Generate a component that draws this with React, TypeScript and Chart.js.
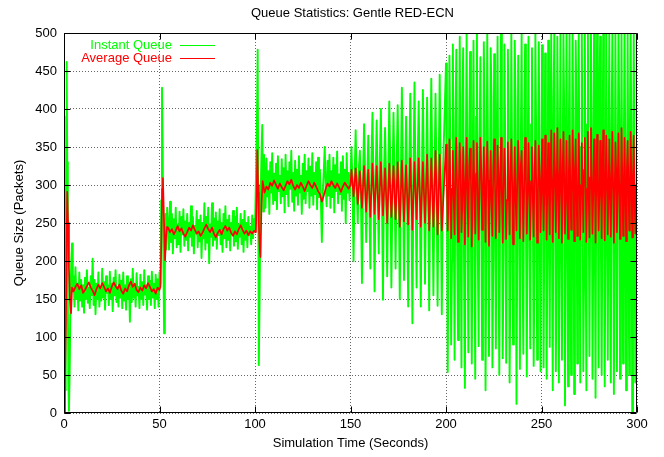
import React, { useEffect, useRef } from 'react';
import { Chart, registerables } from 'chart.js';

Chart.register(...registerables);

const TITLE = 'Queue Statistics: Gentle RED-ECN';
const X_TITLE = 'Simulation Time (Seconds)';
const Y_TITLE = 'Queue Size (Packets)';
const SERIES_NAMES = ['Instant Queue', 'Average Queue'];
const X_TICKS = [0, 50, 100, 150, 200, 250, 300];
const Y_TICKS = [0, 50, 100, 150, 200, 250, 300, 350, 400, 450, 500];

// ---------- Instant queue (green) ----------
const instantStartTimes = [0, 0.3, 0.6, 0.9, 1.2, 1.4, 1.7, 2.0, 2.3, 2.6, 3.0, 3.4, 3.8, 4.2, 4.6];
const instantStartValues = [0, 55, 30, 200, 390, 462, 330, 150, 40, 3, 60, 150, 200, 223, 160];

// t = 5.0 .. 50.0, every 0.5 s
const instantPhase1 = [
  180, 140, 192, 150, 170, 135, 185, 148, 175, 140,
  168, 132, 178, 150, 188, 145, 165, 138, 180, 155,
  203, 142, 175, 130, 170, 150, 185, 140, 165, 148,
  190, 152, 172, 136, 180, 158, 168, 142, 186, 150,
  170, 134, 178, 155, 188, 146, 166, 140, 182, 152,
  174, 138, 185, 148, 168, 136, 180, 150, 172, 120,
  176, 146, 190, 152, 170, 140, 184, 155, 166, 138,
  182, 150, 172, 142, 188, 156, 168, 136, 180, 150,
  174, 142, 186, 152, 170, 138, 182, 150, 176, 140,
  185,
];

const instantJump1Times = [50.5, 50.9, 51.3, 51.7, 52.0, 52.4, 52.8, 53.2, 53.6, 54.0];
const instantJump1Values = [170, 280, 428, 340, 210, 105, 185, 262, 215, 270];

// t = 54.5 .. 100.0, every 0.5 s
const instantPhase2 = [
  250, 215, 278, 225, 262, 210, 255, 230, 270, 218,
  248, 222, 265, 212, 258, 235, 268, 220, 252, 228,
  262, 214, 250, 232, 272, 220, 258, 210, 246, 236,
  266, 218, 254, 226, 260, 204, 250, 230, 276, 215,
  258, 224, 270, 197, 248, 232, 276, 220, 256, 228,
  264, 216, 252, 234, 268, 222, 250, 212, 262, 230,
  272, 218, 254, 228, 260, 214, 250, 236, 266, 220,
  258, 226, 270, 216, 248, 232, 262, 222, 254, 212,
  266, 228, 250, 218, 258, 234, 245, 222, 260, 230,
  255, 240,
];

const instantJump2Times = [100.5, 101.0, 101.4, 101.7, 102.0, 102.4, 102.8, 103.3, 103.8, 104.3, 104.7];
const instantJump2Values = [240, 380, 478, 290, 63, 150, 260, 330, 379, 265, 340];

// t = 105.0 .. 150.0, every 0.5 s
const instantPhase3 = [
  320, 270, 335, 285, 318, 262, 330, 290, 342, 275,
  315, 280, 328, 268, 338, 292, 312, 276, 334, 285,
  322, 264, 340, 288, 318, 272, 330, 295, 345, 278,
  316, 266, 332, 286, 320, 274, 338, 290, 312, 262,
  328, 282, 340, 276, 318, 292, 335, 270, 324, 286,
  342, 274, 316, 288, 330, 268, 336, 284, 320, 278,
  225, 290, 318, 350, 296, 272, 332, 286, 340, 270,
  318, 284, 336, 264, 326, 292, 344, 276, 314, 288,
  330, 266, 338, 282, 320, 250, 342, 290, 316, 280,
  310,
];

// t = 150.5 .., every 0.55 s (peak, middle, trough, middle)
const instantOsc1 = [
  350, 300, 200, 310, 372, 295, 250, 320, 345, 290,
  171, 305, 380, 315, 225, 300, 365, 285, 190, 325,
  395, 300, 160, 310, 385, 295, 210, 330, 400, 290,
  149, 315, 375, 305, 180, 300, 410, 320, 165, 290,
  395, 310, 190, 325, 405, 295, 150, 305, 428, 315,
  175, 300, 390, 285, 140, 320, 420, 300, 118, 310,
  435, 295, 165, 325, 410, 305, 140, 300, 425, 315,
  170, 290, 415, 300, 135, 320, 440, 310, 155, 295,
  420, 305, 141, 315, 445, 300, 130, 310,
];

// t = 200.0 .., every 0.45 s (peak, middle, trough, middle)
const instantOsc2 = [
  460, 300, 54, 240, 470, 350, 90, 200, 485, 280, 70, 380,
  478, 220, 96, 320, 495, 260, 60, 400, 480, 190, 33, 330,
  500, 270, 80, 360, 475, 230, 65, 310, 490, 250, 45, 390,
  500, 210, 88, 340, 468, 290, 70, 180, 488, 370, 30, 240,
  500, 320, 75, 260, 480, 410, 60, 200, 472, 300, 85, 350,
  495, 230, 50, 280, 500, 390, 72, 220, 485, 330, 66, 270,
  478, 360, 40, 190, 500, 310, 90, 250, 490, 400, 12, 240,
  470, 290, 58, 340, 500, 210, 78, 370, 485, 260, 48, 320,
  495, 230, 85, 380, 480, 280, 62, 200, 500, 350, 70, 300,
  488, 250, 55, 330,
];

// t = 250.3 .., every 0.4 s (peak, middle, trough, middle)
const instantOsc3 = [
  484, 320, 60, 260, 473, 380, 45, 220, 490, 290, 87, 350,
  500, 240, 30, 410, 500, 300, 55, 200, 495, 360, 40, 270,
  500, 230, 70, 330, 500, 390, 10, 250, 500, 280, 35, 370,
  500, 210, 50, 310, 500, 340, 25, 240, 490, 400, 65, 290,
  500, 260, 40, 350, 500, 320, 55, 190, 500, 230, 30, 380,
  500, 300, 75, 270, 500, 370, 45, 220, 500, 250, 20, 340,
  500, 310, 60, 400, 495, 220, 50, 280, 500, 360, 35, 240,
  500, 290, 70, 330, 500, 200, 40, 370, 500, 340, 25, 260,
  500, 280, 55, 310, 500, 390, 45, 230, 500, 250, 65, 350,
  500, 320, 30, 210, 500, 270, 50, 380, 500, 330, 0, 240,
  500, 300, 40, 280,
];
const instantEndTimes = [300];
const instantEndValues = [250];

// ---------- Average queue (red) ----------
const averageStartTimes = [0, 0.5, 1.0, 1.4, 1.7, 2.1, 2.6, 3.1, 3.7, 4.2];
const averageStartValues = [0, 40, 120, 230, 291, 250, 190, 150, 131, 165];

// t = 5 .. 50, every 1 s
const averagePhase1 = [
  160, 166, 170, 163, 168, 158, 162, 167, 172, 165,
  161, 155, 163, 169, 164, 171, 166, 160, 164, 158,
  166, 172, 167, 163, 169, 161, 157, 164, 160, 168,
  173, 166, 170, 162, 159, 165, 161, 168, 164, 171,
  166, 160, 163, 157, 165, 162,
];

const averageJump1Times = [50.5, 51.0, 51.4, 51.8, 52.3, 52.9, 53.5, 54.0];
const averageJump1Values = [166, 230, 295, 309, 260, 201, 235, 245];

// t = 54.5 .. 99.5, every 1 s
const averagePhase2 = [
  244, 238, 242, 235, 240, 246, 239, 243, 236, 232,
  238, 244, 240, 247, 241, 236, 239, 233, 237, 243,
  248, 242, 238, 244, 236, 231, 237, 241, 235, 242,
  246, 240, 244, 237, 233, 239, 235, 242, 247, 241,
  236, 240, 234, 239, 236, 240,
];

const averageJump2Times = [100.0, 100.5, 101.0, 101.2, 101.6, 102.0, 102.5, 102.9, 103.4, 104.0];
const averageJump2Values = [238, 240, 310, 346, 300, 250, 215, 205, 275, 305];

// t = 105 .. 150, every 1 s
const averagePhase3 = [
  290, 298, 294, 303, 299, 306, 300, 295, 302, 297,
  293, 299, 305, 301, 307, 299, 294, 300, 296, 303,
  298, 292, 299, 305, 300, 296, 303, 298, 292, 288,
  278, 286, 295, 302, 298, 305, 300, 296, 302, 297,
  291, 298, 303, 299, 295, 300,
];

// t = 150.5 .., every 1.1 s
const averageOsc1 = [
  320, 285, 322, 275, 318, 270, 325, 265, 320, 258,
  328, 262, 325, 255, 330, 260, 322, 250, 328, 258,
  325, 255, 330, 245, 332, 252, 326, 248, 335, 241,
  330, 255, 335, 245, 330, 250, 340, 240, 335, 245,
  345, 235, 340, 240,
];

// t = 200.0 .., every 0.45 s (peak, middle, trough, middle)
const averageOsc2 = [
  353, 300, 240, 285, 360, 310, 230, 295, 345, 280, 235, 320,
  362, 290, 225, 305, 355, 315, 238, 275, 350, 300, 222, 310,
  362, 285, 232, 325, 348, 305, 219, 290, 358, 295, 236, 315,
  355, 280, 228, 300, 362, 320, 241, 285, 350, 290, 225, 310,
  357, 305, 220, 295, 345, 275, 233, 320, 360, 300, 230, 285,
  352, 315, 238, 305, 362, 285, 224, 295, 348, 310, 229, 280,
  356, 295, 235, 315, 360, 300, 222, 290, 350, 280, 240, 310,
  358, 305, 230, 325, 345, 290, 226, 300, 362, 315, 236, 285,
  355, 295, 228, 305, 350, 280, 232, 320, 358, 300, 224, 290,
  352, 310, 238, 300,
];

// t = 250.3 .., every 0.4 s (peak, middle, trough, middle)
const averageOsc3 = [
  360, 300, 240, 290, 365, 310, 228, 305, 355, 285, 235, 320,
  372, 295, 225, 300, 368, 315, 238, 285, 375, 300, 230, 310,
  360, 290, 224, 325, 370, 305, 236, 295, 358, 280, 229, 315,
  365, 300, 241, 290, 372, 320, 226, 305, 360, 295, 233, 285,
  368, 310, 228, 300, 355, 290, 238, 320, 362, 305, 225, 295,
  370, 285, 231, 310, 375, 300, 236, 290, 360, 315, 224, 305,
  366, 295, 240, 285, 358, 310, 230, 320, 372, 290, 227, 300,
  365, 305, 235, 295, 360, 285, 232, 315, 370, 300, 224, 290,
  356, 320, 238, 305, 368, 295, 229, 285, 375, 310, 233, 300,
  362, 290, 226, 320, 358, 305, 240, 295, 370, 300, 231, 310,
  365, 285, 236, 300,
];
const averageEndTimes = [300];
const averageEndValues = [300];

type P = { x: number; y: number };
function byStep(start: number, step: number, values: number[]): P[] {
  return values.map((v, i) => ({ x: Math.round((start + i * step) * 100) / 100, y: v }));
}
function byTimes(times: number[], values: number[]): P[] {
  return times.map((t, i) => ({ x: t, y: values[i] }));
}

const instantData: P[] = [
  ...byTimes(instantStartTimes, instantStartValues),
  ...byStep(5, 0.5, instantPhase1),
  ...byTimes(instantJump1Times, instantJump1Values),
  ...byStep(54.5, 0.5, instantPhase2),
  ...byTimes(instantJump2Times, instantJump2Values),
  ...byStep(105, 0.5, instantPhase3),
  ...byStep(150.5, 0.55, instantOsc1),
  ...byStep(200, 0.45, instantOsc2),
  ...byStep(250.3, 0.4, instantOsc3),
  ...byTimes(instantEndTimes, instantEndValues),
];

const averageData: P[] = [
  ...byTimes(averageStartTimes, averageStartValues),
  ...byStep(5, 1, averagePhase1),
  ...byTimes(averageJump1Times, averageJump1Values),
  ...byStep(54.5, 1, averagePhase2),
  ...byTimes(averageJump2Times, averageJump2Values),
  ...byStep(105, 1, averagePhase3),
  ...byStep(150.5, 1.1, averageOsc1),
  ...byStep(200, 0.45, averageOsc2),
  ...byStep(250.3, 0.4, averageOsc3),
  ...byTimes(averageEndTimes, averageEndValues),
];

const FONT = "'Liberation Sans', Arial, Helvetica, sans-serif";
const GREEN = '#00ff00';
const RED = '#ff0000';

const framePlugin = {
  id: 'gnuframe',
  afterDatasetsDraw(chart: any) {
    const { ctx, chartArea, scales } = chart;
    const { left, right, top, bottom } = chartArea;
    const xs = scales.x;
    const ys = scales.y;
    ctx.save();
    ctx.strokeStyle = '#000';
    ctx.lineWidth = 1;
    const L = Math.round(left) + 0.5;
    const R = Math.round(right) - 0.5;
    const T = Math.round(top) + 0.5;
    const B = Math.round(bottom) - 0.5;
    ctx.beginPath();
    ctx.rect(L, T, R - L, B - T);
    ctx.stroke();
    const tl = 6;
    ctx.beginPath();
    X_TICKS.forEach((v) => {
      const px = Math.round(xs.getPixelForValue(v)) + 0.5;
      ctx.moveTo(px, B);
      ctx.lineTo(px, B - tl);
      ctx.moveTo(px, T);
      ctx.lineTo(px, T + tl);
    });
    Y_TICKS.forEach((v) => {
      const py = Math.round(ys.getPixelForValue(v)) + 0.5;
      ctx.moveTo(L, py);
      ctx.lineTo(L + tl, py);
      ctx.moveTo(R, py);
      ctx.lineTo(R - tl, py);
    });
    ctx.stroke();

    ctx.font = `13px ${FONT}`;
    ctx.textBaseline = 'middle';
    ctx.fillStyle = '#000';
    ctx.textAlign = 'center';
    ctx.fillText(TITLE, (left + right) / 2 + 2, 13);

    ctx.textAlign = 'right';
    const entries = [
      { label: SERIES_NAMES[0], color: GREEN, y: 45 },
      { label: SERIES_NAMES[1], color: RED, y: 58 },
    ];
    entries.forEach((e) => {
      ctx.fillStyle = e.color;
      ctx.fillText(e.label, 172, e.y);
      ctx.strokeStyle = e.color;
      ctx.lineWidth = 1;
      ctx.beginPath();
      ctx.moveTo(180, Math.round(e.y) + 0.5);
      ctx.lineTo(215, Math.round(e.y) + 0.5);
      ctx.stroke();
    });
    ctx.restore();
  },
};

export default function App() {
  const ref = useRef<HTMLCanvasElement | null>(null);
  useEffect(() => {
    if (!ref.current) return;
    const chart = new Chart(ref.current, {
      type: 'line',
      data: {
        datasets: [
          {
            label: SERIES_NAMES[1],
            data: averageData,
            borderColor: RED,
            borderWidth: 1.7,
            pointRadius: 0,
            tension: 0,
            borderJoinStyle: 'round',
            fill: false,
          },
          {
            label: SERIES_NAMES[0],
            data: instantData,
            borderColor: GREEN,
            borderWidth: 1.9,
            pointRadius: 0,
            tension: 0,
            borderJoinStyle: 'round',
            fill: false,
          },
        ],
      },
      options: {
        responsive: false,
        animation: false,
        events: [],
        layout: { padding: { left: 0, right: 27, top: 33, bottom: 0 } },
        plugins: {
          legend: { display: false },
          tooltip: { enabled: false },
          title: { display: false },
        },
        scales: {
          x: {
            type: 'linear',
            min: 0,
            max: 300,
            afterBuildTicks: (s: any) => {
              s.ticks = X_TICKS.map((v) => ({ value: v }));
            },
            afterFit: (s: any) => {
              s.height = 44;
            },
            ticks: {
              color: '#000',
              font: { family: FONT, size: 13 },
              padding: 4,
              maxRotation: 0,
            },
            grid: { color: 'rgba(0,0,0,0.6)', lineWidth: 1, drawTicks: false },
            border: { display: false, dash: [1, 2] },
            title: {
              display: true,
              text: X_TITLE,
              color: '#000',
              font: { family: FONT, size: 13 },
              padding: { top: 0, bottom: 6 },
            },
          },
          y: {
            type: 'linear',
            min: 0,
            max: 500,
            afterBuildTicks: (s: any) => {
              s.ticks = Y_TICKS.map((v) => ({ value: v }));
            },
            afterFit: (s: any) => {
              s.width = 64;
            },
            ticks: {
              color: '#000',
              font: { family: FONT, size: 13 },
              padding: 7,
            },
            grid: { color: 'rgba(0,0,0,0.6)', lineWidth: 1, drawTicks: false },
            border: { display: false, dash: [1, 2] },
            title: {
              display: true,
              text: Y_TITLE,
              color: '#000',
              font: { family: FONT, size: 13 },
              padding: { top: 12, bottom: 0 },
            },
          },
        },
      },
      plugins: [framePlugin],
    } as any);
    return () => chart.destroy();
  }, []);
  return (
    <div style={{ position: 'absolute', left: 0, top: 0, width: 664, height: 457, background: '#fff' }}>
      <canvas ref={ref} width={664} height={457} />
    </div>
  );
}
